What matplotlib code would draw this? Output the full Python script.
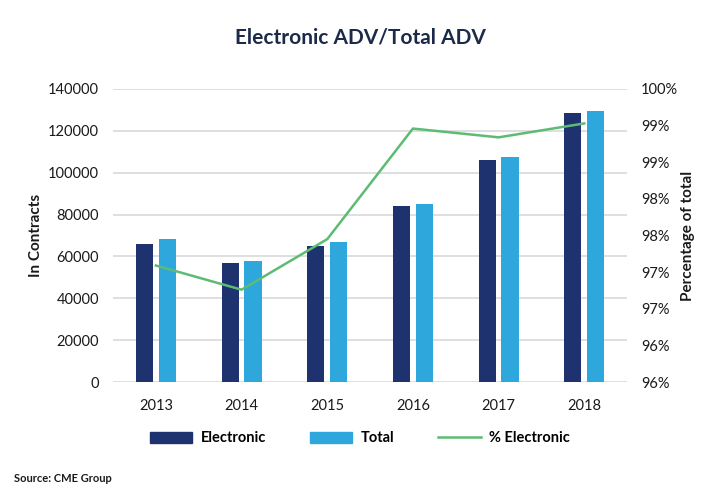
import matplotlib
matplotlib.use("Agg")
import matplotlib.pyplot as plt
import numpy as np
from matplotlib.patches import Patch
from matplotlib.lines import Line2D

years = ["2013", "2014", "2015", "2016", "2017", "2018"]
electronic = [66000, 56800, 65200, 84100, 106300, 128400]
total = [68200, 57700, 67100, 85100, 107300, 129400]
pct_electronic = [97.59, 97.26, 97.95, 99.46, 99.34, 99.53]

left_ticks = [0, 20000, 40000, 60000, 80000, 100000, 120000, 140000]
right_ticks = [96.0, 96.5, 97.0, 97.5, 98.0, 98.5, 99.0, 99.5, 100.0]
right_labels = ["96%", "96%", "97%", "97%", "98%", "98%", "99%", "99%", "100%"]

c_elec = "#1f3270"
c_total = "#2ea8dc"
c_line = "#5dbb74"
c_text = "#1a1a1a"
c_title = "#1c2a4a"

plt.rcParams['font.family'] = ['Lato', 'DejaVu Sans']

fig = plt.figure(figsize=(7.2, 5), dpi=100)
ax = fig.add_axes([0.157, 0.236, 0.714, 0.586])

x = np.arange(len(years))
w = 0.2
ax.bar(x - 0.133, electronic, width=w, color=c_elec, zorder=3)
ax.bar(x + 0.133, total, width=w, color=c_total, zorder=3)
ax.set_xlim(-0.5, len(years) - 0.5)
ax.set_ylim(0, 140000)
ax.set_yticks(left_ticks)
ax.set_yticklabels([str(t) for t in left_ticks])
ax.set_xticks(x)
ax.set_xticklabels(years)
ax.grid(axis='y', color='#d9d9d9', linewidth=1.2, zorder=0)
for s in ax.spines.values():
    s.set_visible(False)
ax.tick_params(axis='both', length=0, labelsize=10.5, colors=c_text)
ax.tick_params(axis='x', pad=12)
ax.tick_params(axis='y', pad=10)
ax.set_ylabel("In Contracts", fontsize=11, fontweight='bold', color=c_text, labelpad=4)

ax2 = ax.twinx()
ax2.plot(x, pct_electronic, color=c_line, linewidth=1.8, zorder=4)
ax2.set_ylim(96, 100)
ax2.set_yticks(right_ticks)
ax2.set_yticklabels(right_labels)
for s in ax2.spines.values():
    s.set_visible(False)
ax2.tick_params(axis='y', length=0, labelsize=10.5, colors=c_text, pad=10)
ax2.set_ylabel("Percentage of total", fontsize=11, fontweight='bold', color=c_text, labelpad=2)

fig.text(0.5, 0.924, "Electronic ADV/Total ADV", ha='center', va='center',
         fontsize=15, fontweight='bold', color=c_title)

handles = [Patch(color=c_elec), Patch(color=c_total), Line2D([0], [0], color=c_line, linewidth=1.8)]
labels = ["Electronic", "Total", "% Electronic"]
fig.legend(handles, labels, loc='center', bbox_to_anchor=(0.5, 0.123), ncol=3,
           frameon=False, handlelength=2.9, handleheight=0.8, columnspacing=3.0,
           handletextpad=0.6, prop={'weight': 'bold', 'size': 10.5})

fig.text(0.02, 0.044, "Source: CME Group", ha='left', va='center', fontsize=8,
         fontweight='bold', color=c_text)

fig.savefig("out.png", dpi=100)
